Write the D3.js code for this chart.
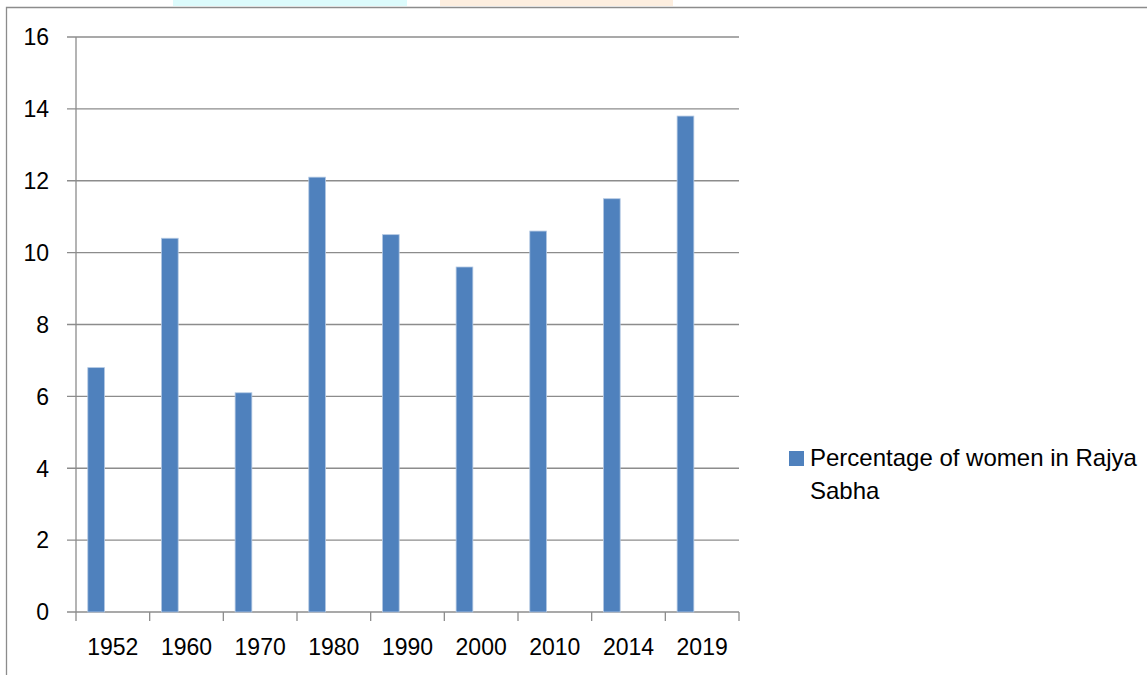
<html><head>
<script src="https://d3js.org/d3.v7.min.js"></script>
<style>
body { margin: 0; background: #fff; font-family: "Liberation Sans", Arial, sans-serif; }
</style>
</head>
<body>
<svg id="chart" width="1147" height="675"></svg>
<script>
// data
const years = ["1952", "1960", "1970", "1980", "1990", "2000", "2010", "2014", "2019"];
const percentWomen = [6.8, 10.4, 6.1, 12.1, 10.5, 9.6, 10.6, 11.5, 13.8];
const yTicks = [0, 2, 4, 6, 8, 10, 12, 14, 16];
const seriesName = ["Percentage of women in Rajya", "Sabha"];

const svg = d3.select("#chart");
const margin = { top: 37, left: 76, right: 408, bottom: 63 };
const width = +svg.attr("width");
const height = +svg.attr("height");

// faint watermark strip at the very top
svg.append("rect").attr("x", 173).attr("y", 0).attr("width", 234).attr("height", 6).attr("fill", "#dcfbfc");
svg.append("rect").attr("x", 440).attr("y", 0).attr("width", 233).attr("height", 6).attr("fill", "#fdeedf");

// outer chart border
svg.append("path")
    .attr("d", "M6.5," + height + "V7.5H" + width)
    .attr("fill", "none")
    .attr("stroke", "#8c8c8c")
    .attr("stroke-width", 1.3);

const x = d3.scaleBand().domain(years).range([margin.left, width - margin.right]);
const y = d3.scaleLinear().domain([0, 16]).range([height - margin.bottom, margin.top]);

//gridlines + y ticks
svg.append("g").selectAll("line").data(yTicks)
    .join("line")
    .attr("x1", margin.left - 9)
    .attr("x2", width - margin.right)
    .attr("y1", d => y(d))
    .attr("y2", d => y(d))
    .attr("stroke", "#8c8c8c")
    .attr("stroke-width", 1.3);

svg.append("g").selectAll("text").data(yTicks)
    .join("text")
    .attr("x", 49)
    .attr("y", d => y(d))
    .attr("dy", "0.36em")
    .attr("text-anchor", "end")
    .attr("font-size", 23)
    .attr("fill", "#000")
    .text(d => d);

// y axis line
svg.append("line")
    .attr("x1", margin.left).attr("x2", margin.left)
    .attr("y1", y(16)).attr("y2", y(0))
    .attr("stroke", "#8c8c8c").attr("stroke-width", 1.3);

// x ticks at category edges
const edges = years.map(d => x(d)).concat([x.range()[1]]);
svg.append("g").selectAll("line").data(edges)
    .join("line")
    .attr("x1", d => d).attr("x2", d => d)
    .attr("y1", y(0)).attr("y2", y(0) + 9)
    .attr("stroke", "#8c8c8c").attr("stroke-width", 1.3);

svg.append("g").selectAll("text").data(years)
    .join("text")
    .attr("x", d => x(d) + x.bandwidth() / 2)
    .attr("y", 655)
    .attr("text-anchor", "middle")
    .attr("font-size", 23)
    .attr("fill", "#000")
    .text(d => d);

// bars (sit in the left slot of the category, like a 3-series excel cluster)
const bw = x.bandwidth() * 0.227;
svg.append("g").selectAll("rect").data(percentWomen)
    .join("rect")
    .attr("x", (d, i) => x(years[i]) + x.bandwidth() * 0.16)
    .attr("y", d => y(d))
    .attr("width", bw)
    .attr("height", d => y(0) - y(d))
    .attr("fill", "#4f81bd")
    .attr("stroke", "#b3c8e3")
    .attr("stroke-width", 0.8);

// legend
svg.append("rect")
    .attr("x", 789).attr("y", 451)
    .attr("width", 15).attr("height", 15)
    .attr("fill", "#4f81bd");

svg.append("g").selectAll("text").data(seriesName)
    .join("text")
    .attr("x", 810)
    .attr("y", (d, i) => 466 + i * 33)
    .attr("font-size", 24)
    .attr("fill", "#000")
    .text(d => d);
</script>
</body>
</html>
